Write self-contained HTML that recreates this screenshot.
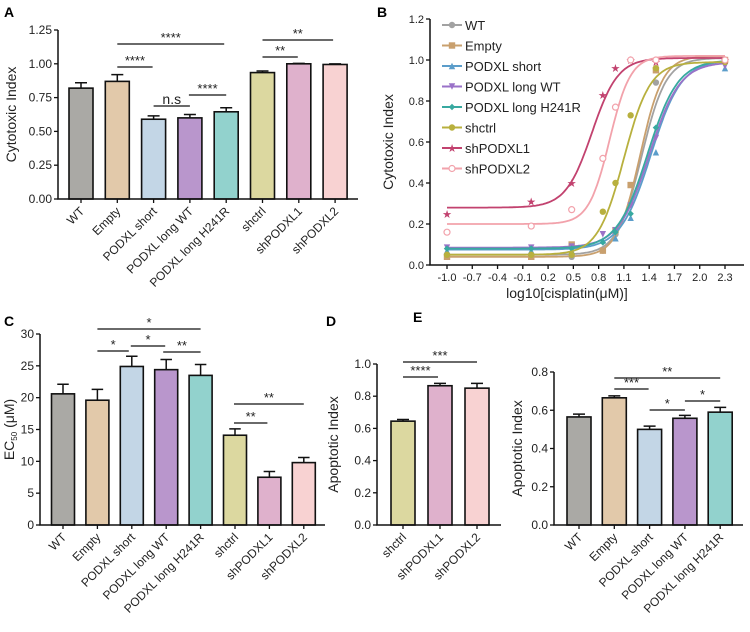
<!DOCTYPE html>
<html><head><meta charset="utf-8">
<style>
html,body{margin:0;padding:0;background:#fff;}
svg{display:block;font-family:"Liberation Sans",Arial,sans-serif;}
</style></head>
<body>
<svg id="fig" width="750" height="632" viewBox="0 0 750 632" xmlns="http://www.w3.org/2000/svg">
<text x="4" y="17" font-size="14" font-weight="bold">A</text>
<text x="377" y="17" font-size="14" font-weight="bold">B</text>
<text x="4" y="326" font-size="14" font-weight="bold">C</text>
<text x="326" y="326" font-size="14" font-weight="bold">D</text>
<text x="413" y="322" font-size="14" font-weight="bold">E</text>
</svg>
<script>
// ---------- data ----------
const catsA = ["WT","Empty","PODXL short","PODXL long WT","PODXL long H241R","shctrl","shPODXL1","shPODXL2"];
const valsA = [0.82,0.87,0.59,0.60,0.645,0.935,1.0,0.995];
const errsA = [0.04,0.05,0.025,0.025,0.03,0.012,0.003,0.004];
const ticksA = ["0.00","0.25","0.50","0.75","1.00","1.25"];

const catsC = ["WT","Empty","PODXL short","PODXL long WT","PODXL long H241R","shctrl","shPODXL1","shPODXL2"];
const valsC = [20.6,19.6,24.9,24.4,23.5,14.1,7.5,9.8];
const errsC = [1.5,1.7,1.6,1.6,1.7,1.0,0.9,0.8];
const ticksC = ["0","5","10","15","20","25","30"];

const catsD = ["shctrl","shPODXL1","shPODXL2"];
const valsD = [0.645,0.865,0.85];
const errsD = [0.01,0.015,0.03];
const ticksD = ["0.0","0.2","0.4","0.6","0.8","1.0"];

const catsE = ["WT","Empty","PODXL short","PODXL long WT","PODXL long H241R"];
const valsE = [0.565,0.665,0.50,0.558,0.59];
const errsE = [0.015,0.01,0.017,0.015,0.025];
const ticksE = ["0.0","0.2","0.4","0.6","0.8"];

const seriesNames = ["WT","Empty","PODXL short","PODXL long WT","PODXL long H241R","shctrl","shPODXL1","shPODXL2"];
const doseX = [-1.0,0.0,0.48,0.85,1.0,1.18,1.48,2.3];
const ptsWT = [0.05,0.05,0.04,0.07,0.15,0.30,0.89,1.0];
const ptsEmpty = [0.04,0.04,0.10,0.07,0.17,0.39,0.95,1.0];
const ptsShort = [0.07,0.07,0.07,0.12,0.13,0.23,0.55,0.96];
const ptsLongWT = [0.085,0.085,0.09,0.15,0.17,0.29,0.62,0.97];
const ptsH241R = [0.08,0.08,0.08,0.11,0.16,0.25,0.67,0.99];
const ptsShctrl = [0.05,0.05,0.05,0.26,0.40,0.73,0.96,0.99];
const ptsSh1 = [0.25,0.31,0.40,0.83,0.96,1.0,0.99,1.0];
const ptsSh2 = [0.16,0.19,0.27,0.52,0.77,1.0,1.0,1.0];
// fit params: bottom, top, logEC50, hill
const fitBottom = [0.05,0.04,0.075,0.085,0.08,0.05,0.28,0.20];
const fitTop = [1.01,1.02,1.0,0.99,1.0,0.99,1.01,1.02];
const fitLogEC50 = [1.31,1.29,1.42,1.40,1.38,1.10,0.72,0.93];
const fitHill = [3.0,3.2,2.4,2.4,2.4,2.8,2.8,3.5];
const xTicksB = ["-1.0","-0.7","-0.4","-0.1","0.2","0.5","0.8","1.1","1.4","1.7","2.0","2.3"];
const yTicksB = ["0.0","0.2","0.4","0.6","0.8","1.0","1.2"];

const NS="http://www.w3.org/2000/svg";
const svg=document.getElementById('fig');
function el(tag,attrs,parent){const e=document.createElementNS(NS,tag);for(const k in attrs)e.setAttribute(k,attrs[k]);(parent||svg).appendChild(e);return e;}

const barColors={"WT":"#aaa9a5","Empty":"#e2c9aa","PODXL short":"#c3d6e6","PODXL long WT":"#b996cc","PODXL long H241R":"#92d2cd","shctrl":"#dcd8a0","shPODXL1":"#dfb1cc","shPODXL2":"#f8d2d2"};
const lineColors=["#a2a2a2","#c9a06e","#5b9dca","#9a72c8","#38a9a0","#b8b03e","#c2426f","#f2a2ab"];

function barChart(o){
  const g=el('g',{});
  
  
  const y=v=>o.y0-(v-o.vmin)/(o.vmax-o.vmin)*(o.y0-o.y1);
  const x=i=>o.x0+o.first+i*o.step;
  o.cats.forEach((c,i)=>{
    const cx=x(i), top=y(o.vals[i]), eT=y(o.vals[i]+o.errs[i]);
    const b=el('rect',{x:cx-o.bw/2,y:top,width:o.bw,height:o.y0-top,fill:barColors[c],stroke:'#111','stroke-width':1.6},g);
    
    
    const e=el('path',{d:`M${cx},${top}V${eT}M${cx-o.bw/4},${eT}H${cx+o.bw/4}`,stroke:'#111','stroke-width':1.5,fill:'none'},g);
    
    
    el('line',{x1:cx,x2:cx,y1:o.y0,y2:o.y0+4,stroke:'#111','stroke-width':1.3},g);
    const t=el('text',{x:cx+4,y:o.y0+13,'font-size':o.fs,'text-anchor':'end',transform:`rotate(-45 ${cx+4} ${o.y0+13})`,fill:'#222'},g);
    t.textContent=c;
    
    
  });
  const ax=el('path',{d:`M${o.x0},${o.y1}V${o.y0}H${o.xEnd}`,stroke:'#111','stroke-width':1.5,fill:'none'},g);
  
  
  o.ticks.forEach(tk=>{
    const yy=y(parseFloat(tk));
    el('line',{x1:o.x0-4,x2:o.x0,y1:yy,y2:yy,stroke:'#111','stroke-width':1.3},g);
    const t=el('text',{x:o.x0-6,y:yy+4,'font-size':o.fs,'text-anchor':'end',fill:'#222'},g);
    t.textContent=tk;
    
    
  });
  const tt=el('text',{x:o.titleX,y:(o.y0+o.y1)/2,'font-size':o.tfs,'text-anchor':'middle',transform:`rotate(-90 ${o.titleX} ${(o.y0+o.y1)/2})`,fill:'#222'},g);
  
  
  if(o.titleHTML){tt.innerHTML=o.titleHTML;}else tt.textContent=o.title;
  o.sig.forEach(s=>{
    const l=el('line',{x1:x(s[0])-s[4],x2:x(s[1])+s[5],y1:s[2],y2:s[2],stroke:'#111','stroke-width':1.3},g);
    
    
    const t=el('text',{x:(x(s[0])-s[4]+x(s[1])+s[5])/2,y:s[2]-2,'font-size':s[3]==='n.s'?14:13,'text-anchor':'middle',fill:'#222'},g);
    t.textContent=s[3];
    
    
  });
}

barChart({name:'panel-a-cytotoxic-chart',cats:catsA,vals:valsA,errs:errsA,ticks:ticksA,vmin:0,vmax:1.25,x0:58,y0:199,y1:30,xEnd:358,first:23,step:36.3,bw:24,fs:12,tfs:14,titleX:16,title:'Cytotoxic Index',
 sig:[[1,4,44,'****',0,-2],[1,2,67,'****',0,-1],[2,3,106,'n.s',0,0],[3,4,95,'****',1,0],[5,7,40,'**',0,-2],[5,6,57,'**',0,-1]]});
barChart({name:'panel-c-ec50-chart',cats:catsC,vals:valsC,errs:errsC,ticks:ticksC,vmin:0,vmax:30,x0:40,y0:525,y1:334,xEnd:325,first:23,step:34.4,bw:23,fs:12,tfs:14,titleX:14,titleHTML:'EC<tspan font-size="8" dy="3">50</tspan><tspan dy="-3"> (μM)</tspan>',
 sig:[[1,4,329,'*',0,0],[1,2,351,'*',0,-3],[2,3,346,'*',1,-1],[3,4,352,'**',3,0],[5,7,404,'**',1,0],[5,6,423,'**',1,-2]]});
barChart({name:'panel-d-apoptotic-chart',cats:catsD,vals:valsD,errs:errsD,ticks:ticksD,vmin:0,vmax:1.0,x0:377,y0:525,y1:364,xEnd:501,first:26,step:37,bw:24,fs:12,tfs:14,titleX:338,title:'Apoptotic Index',
 sig:[[0,2,362,'***',0,0],[0,1,377,'****',0,-2]]});
barChart({name:'panel-e-apoptotic-chart',cats:catsE,vals:valsE,errs:errsE,ticks:ticksE,vmin:0,vmax:0.8,x0:554,y0:525,y1:372,xEnd:743,first:25,step:35.3,bw:24,fs:12,tfs:14,titleX:522,title:'Apoptotic Index',
 sig:[[1,4,378,'**',0,0],[1,2,389,'***',0,-1],[2,3,410,'*',0,0],[3,4,401,'*',0,0]]});

// ---------- panel B ----------
(function(){
  const g=el('g',{});
  
  
  const X0=430,Y0=265,Y1=19,XA=447,XB=725;
  const sx=v=>XA+(v+1.0)/3.3*(XB-XA);
  const sy=v=>Y0-v/1.2*(Y0-Y1);
  const ax=el('path',{d:`M${X0},${Y1}V${Y0}H744`,stroke:'#111','stroke-width':1.5,fill:'none'},g);
  
  
  yTicksB.forEach(tk=>{const yy=sy(parseFloat(tk));
    el('line',{x1:X0-4,x2:X0,y1:yy,y2:yy,stroke:'#111','stroke-width':1.3},g);
    const t=el('text',{x:X0-6,y:yy+4,'font-size':11,'text-anchor':'end',fill:'#222'},g);t.textContent=tk;
    
    });
  xTicksB.forEach(tk=>{const xx=sx(parseFloat(tk));
    el('line',{x1:xx,x2:xx,y1:Y0,y2:Y0+4,stroke:'#111','stroke-width':1.3},g);
    const t=el('text',{x:xx,y:Y0+16,'font-size':11,'text-anchor':'middle',fill:'#222'},g);t.textContent=tk;
    
    });
  const xt=el('text',{x:567,y:298,'font-size':14,'text-anchor':'middle',fill:'#222'},g);xt.textContent='log10[cisplatin(μM)]';
  
  
  const yt=el('text',{x:393,y:142,'font-size':14,'text-anchor':'middle',transform:'rotate(-90 393 142)',fill:'#222'},g);yt.textContent='Cytotoxic Index';
  
  
  const pts=[ptsWT,ptsEmpty,ptsShort,ptsLongWT,ptsH241R,ptsShctrl,ptsSh1,ptsSh2];
  const shapes=['circle','square','tri','tridown','diamond','hex','star','ocircle'];
  function marker(shape,cx,cy,c,parent){
    const r=3.2;
    if(shape==='circle'||shape==='hex')return el('circle',{cx,cy,r,fill:c},parent);
    if(shape==='ocircle')return el('circle',{cx,cy,r:3,fill:'#fff',stroke:c,'stroke-width':1.2},parent);
    if(shape==='square')return el('rect',{x:cx-r,y:cy-r,width:2*r,height:2*r,fill:c},parent);
    if(shape==='tri')return el('path',{d:`M${cx},${cy-r}L${cx+r},${cy+r}L${cx-r},${cy+r}Z`,fill:c},parent);
    if(shape==='tridown')return el('path',{d:`M${cx},${cy+r}L${cx+r},${cy-r}L${cx-r},${cy-r}Z`,fill:c},parent);
    if(shape==='diamond')return el('path',{d:`M${cx},${cy-r}L${cx+r},${cy}L${cx},${cy+r}L${cx-r},${cy}Z`,fill:c},parent);
    return el('text',{x:cx,y:cy+4,'font-size':11,'text-anchor':'middle',fill:c},parent);
  }
  seriesNames.forEach((n,i)=>{
    const c=lineColors[i];
    const sg=el('g',{},g);
    
    
    let d='';
    for(let k=0;k<=200;k++){const xv=-1.0+3.3*k/200;
      const yv=fitBottom[i]+(fitTop[i]-fitBottom[i])/(1+Math.pow(10,(fitLogEC50[i]-xv)*fitHill[i]));
      d+=(k?'L':'M')+sx(xv).toFixed(1)+','+sy(yv).toFixed(1);}
    const p=el('path',{d,stroke:c,'stroke-width':1.8,fill:'none'},sg);
    
    
    doseX.forEach((xv,k)=>{
      const m=marker(shapes[i],sx(xv),sy(pts[i][k]),c,sg);
      if(shapes[i]==='star')m.textContent='★';
      
      
    });
    const ly=25+i*20.5;
    const lg=el('g',{},g);
    
    
    el('line',{x1:442,x2:462,y1:ly,y2:ly,stroke:c,'stroke-width':2},lg);
    const mk=marker(shapes[i],452,ly,c,lg); if(shapes[i]==='star')mk.textContent='★';
    const t=el('text',{x:465,y:ly+5,'font-size':13,fill:'#222'},lg);t.textContent=n;
  });
})();
</script>
</body></html>
